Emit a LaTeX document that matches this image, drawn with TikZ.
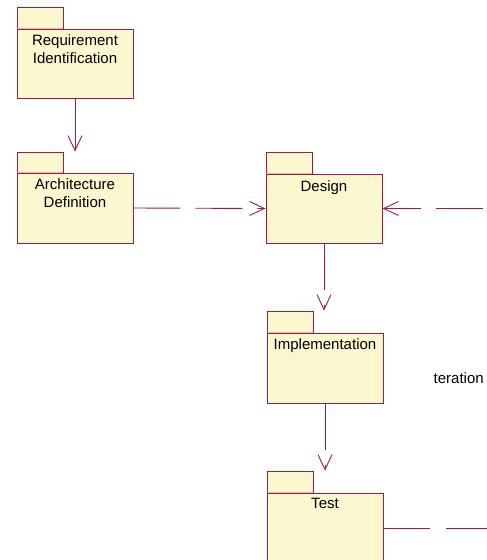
\documentclass[tikz,border=0pt]{standalone}
\usepackage{fontspec}
\setmainfont{Liberation Sans}
\usepackage{tikz}
\usetikzlibrary{arrows.meta}

\definecolor{pkgline}{RGB}{158,28,66}
\definecolor{pkgfill}{RGB}{251,247,207}
\definecolor{tabline}{RGB}{226,186,182}

\tikzset{
  pkgbody/.style={draw=pkgline, fill=pkgfill, line width=0.9pt, minimum width=116pt, inner sep=0pt},
  pkgtab/.style={draw=pkgline, fill=pkgfill, line width=0.9pt, minimum width=46pt, minimum height=21pt, inner sep=0pt, anchor=south west},
  pkgtext/.style={below, align=center, inner sep=0pt, font=\fontsize{15}{18}\selectfont},
  vee/.style={-{Straight Barb[length=15pt,width=14pt,line width=0.9pt]}},
  dep/.style={draw=pkgline, line width=0.9pt, vee, dash pattern=on 47pt off 15pt},
  deppath/.style={draw=pkgline, line width=0.9pt, dash pattern=on 47pt off 16pt},
  trace/.style={draw=pkgline, line width=0.9pt, vee}
}

\begin{document}
\begin{tikzpicture}[x=1pt, y=-1pt]
\useasboundingbox (0,0) rectangle (487,560);
\clip (0,0) rectangle (487,560);

% packages: body first, then the tab sitting on its top left corner
\node[pkgbody, minimum height=69pt] (req) at (75,63.5) {};
\node[pkgtab] (reqtab) at (req.north west) {};
\node[pkgbody, minimum height=70pt] (arch) at (75,208) {};
\node[pkgtab, minimum height=20pt] (archtab) at (arch.north west) {};
\node[pkgbody, minimum height=69pt] (design) at (324,208.5) {};
\node[pkgtab] (designtab) at (design.north west) {};
\node[pkgbody, minimum height=70pt] (impl) at (325,368) {};
\node[pkgtab] (impltab) at (impl.north west) {};
\node[pkgbody, minimum height=70pt] (test) at (325,528) {};
\node[pkgtab] (testtab) at (test.north west) {};

% lighter line under each tab
\foreach \t in {reqtab,archtab,designtab,impltab,testtab}
  \draw[tabline, line width=0.9pt] ([xshift=0.5pt]\t.south west) -- ([xshift=-0.5pt]\t.south east);

\node[pkgtext] (reqname) at ([yshift=-5.5pt]req.north) {Requirement\\Identification};
\node[pkgtext] (archname) at ([yshift=-6pt]arch.north) {Architecture\\Definition};
\node[pkgtext] (designname) at ([yshift=-6.5pt]design.north) {Design};
\node[pkgtext] (implname) at ([yshift=-6pt]impl.north) {Implementation};
\node[pkgtext] (testname) at ([yshift=-5pt]test.north) {Test};

\node[anchor=west, inner sep=0pt, font=\fontsize{15}{18}\selectfont] (loop) at (433.5,378) {teration};

% dependencies
\draw[trace] (req.south) -- (req.south |- archtab.north);
\draw[dep] (arch.east) -- (design.west);
\draw[dep] (design.south) -- (design.south |- impltab.north);
\draw[dep] (impl.south) -- (impl.south |- testtab.north);

\coordinate (backin) at (483,208.5);
\coordinate (backout) at (540,528);
\draw[dep] (backin) -- (design.east);
\draw[deppath] (test.east) -- (backout);
\end{tikzpicture}
\end{document}
